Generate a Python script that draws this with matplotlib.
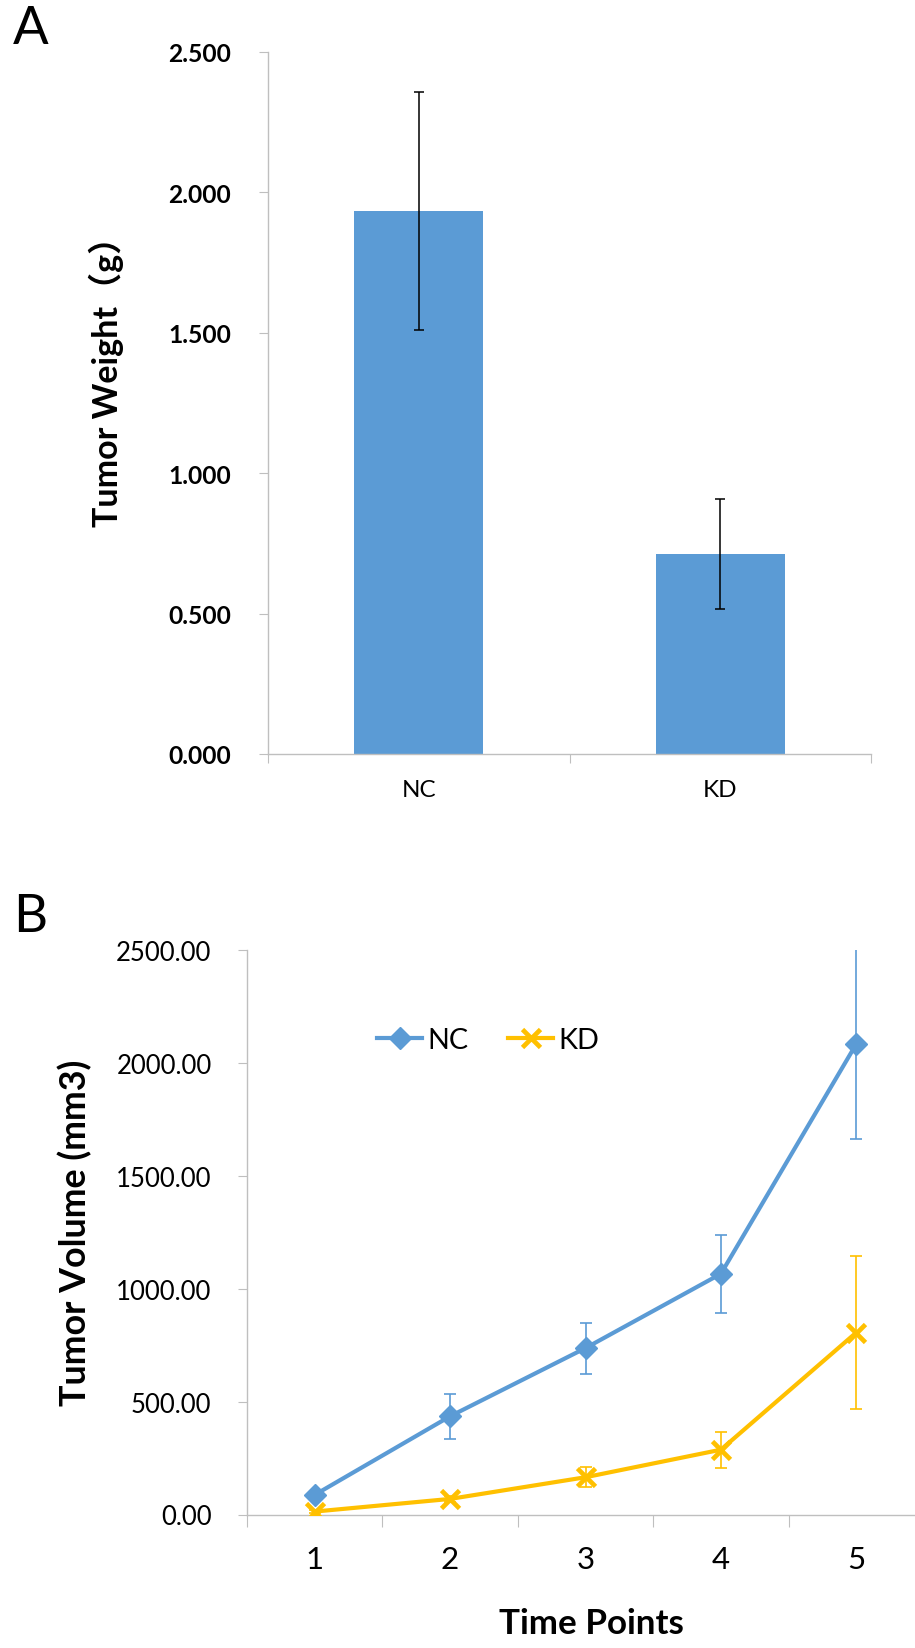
import matplotlib
import matplotlib.pyplot as plt

matplotlib.use("Agg")

# panel A: tumor weight
groups = ["NC", "KD"]
weight_mean = [1.932, 0.711]
weight_err = [0.423, 0.195]

# panel B: tumor volume over time
time_points = [1, 2, 3, 4, 5]
nc_volume = [87, 435, 737, 1066, 2084]
nc_err = [15, 100, 113, 174, 420]
kd_volume = [13, 69, 165, 287, 806]
kd_err = [5, 12, 45, 80, 340]

BLUE = "#5B9BD5"
GOLD = "#FFC000"
AXIS_GREY = "#BFBFBF"

plt.rcParams["font.family"] = ["Lato", "Noto Sans CJK TC", "DejaVu Sans"]

W, H = 915, 1649
fig = plt.figure(figsize=(W / 100, H / 100), dpi=100)


def box(left, top, right, bottom):
    return [left / W, 1 - bottom / H, (right - left) / W, (bottom - top) / H]


def style_axes(ax):
    for side in ("top", "right"):
        ax.spines[side].set_visible(False)
    for side in ("left", "bottom"):
        ax.spines[side].set_color(AXIS_GREY)
        ax.spines[side].set_linewidth(1)


# ---- A ----
ax1 = fig.add_axes(box(268, 52.6, 871, 755))
style_axes(ax1)
xa = [i + 0.5 for i in range(len(groups))]
ax1.bar(xa, weight_mean, width=0.428, color=BLUE, zorder=2)
ax1.errorbar(xa, weight_mean, yerr=weight_err, fmt="none", ecolor="black",
             elinewidth=1.1, capsize=3.5, capthick=1.1, zorder=3)
ax1.set_xlim(0, len(groups))
ax1.set_ylim(0, 2.5)
ax1.set_yticks([0, 0.5, 1.0, 1.5, 2.0, 2.5])
ax1.set_yticklabels([f"{v:.3f}" for v in [0, 0.5, 1.0, 1.5, 2.0, 2.5]],
                    fontsize=17.7, fontweight="bold")
ax1.tick_params(axis="y", length=6.5, color=AXIS_GREY, pad=20)
ax1.set_xticks(range(len(groups) + 1))
ax1.set_xticklabels([])
ax1.tick_params(axis="x", which="major", length=6.5, color=AXIS_GREY)
ax1.set_xticks(xa, minor=True)
ax1.set_xticklabels(groups, minor=True, fontsize=17.5)
ax1.tick_params(axis="x", which="minor", length=0, pad=18)
ax1.set_ylabel("Tumor Weight（g）", fontsize=24.5, fontweight="bold")
ax1.yaxis.set_label_coords((124 - 268) / 603, (755 - 373.5) / 702.4)
fig.text(13 / W, 1 - 30 / H, "A", fontsize=38, va="center", ha="left")

# ---- B ----
ax2 = fig.add_axes(box(247, 951, 924, 1515.5))
style_axes(ax2)
ax2.errorbar(time_points, nc_volume, yerr=nc_err, fmt="none", ecolor=BLUE,
             elinewidth=1.2, capsize=4.5, capthick=1.2, zorder=2)
ax2.errorbar(time_points, kd_volume, yerr=kd_err, fmt="none", ecolor=GOLD,
             elinewidth=1.2, capsize=4.5, capthick=1.2, zorder=2)
ax2.plot(time_points, nc_volume, color=BLUE, lw=3, marker="D", ms=11,
         label="NC", zorder=3)
ax2.plot(time_points, kd_volume, color=GOLD, lw=3, marker="x", ms=13,
         mew=3.4, label="KD", zorder=3)
ax2.set_xlim(0.5, 5.5)
ax2.set_ylim(0, 2500)
yt = [0, 500, 1000, 1500, 2000, 2500]
ax2.set_yticks(yt)
ax2.set_yticklabels([f"{v:.2f}" for v in yt], fontsize=18.5)
ax2.tick_params(axis="y", length=6.5, color=AXIS_GREY, pad=19)
ax2.set_xticks([t + 0.5 for t in [0] + time_points])
ax2.set_xticklabels([])
ax2.tick_params(axis="x", which="major", length=8.6, color=AXIS_GREY)
ax2.set_xticks(time_points, minor=True)
ax2.set_xticklabels([str(t) for t in time_points], minor=True, fontsize=22.5)
ax2.tick_params(axis="x", which="minor", length=0, pad=22)
ax2.set_ylabel("Tumor Volume (mm3)", fontsize=25.8, fontweight="bold")
ax2.yaxis.set_label_coords((92 - 247) / 677, 0.5)
ax2.set_xlabel("Time Points", fontsize=25.2, fontweight="bold")
ax2.xaxis.set_label_coords((591 - 247) / 677, -(1608 - 1515.5) / 564.5)
ax2.legend(loc="center left", bbox_to_anchor=((377 - 247) / 677, (1515.5 - 1041) / 564.5),
           ncol=2, frameon=False, fontsize=20.7, numpoints=1, handlelength=1.57,
           handletextpad=0.17, columnspacing=1.39, borderaxespad=0, borderpad=0)
fig.text(13 / W, 1 - 918 / H, "B", fontsize=38, va="center", ha="left")

fig.savefig("out.png", dpi=100)
